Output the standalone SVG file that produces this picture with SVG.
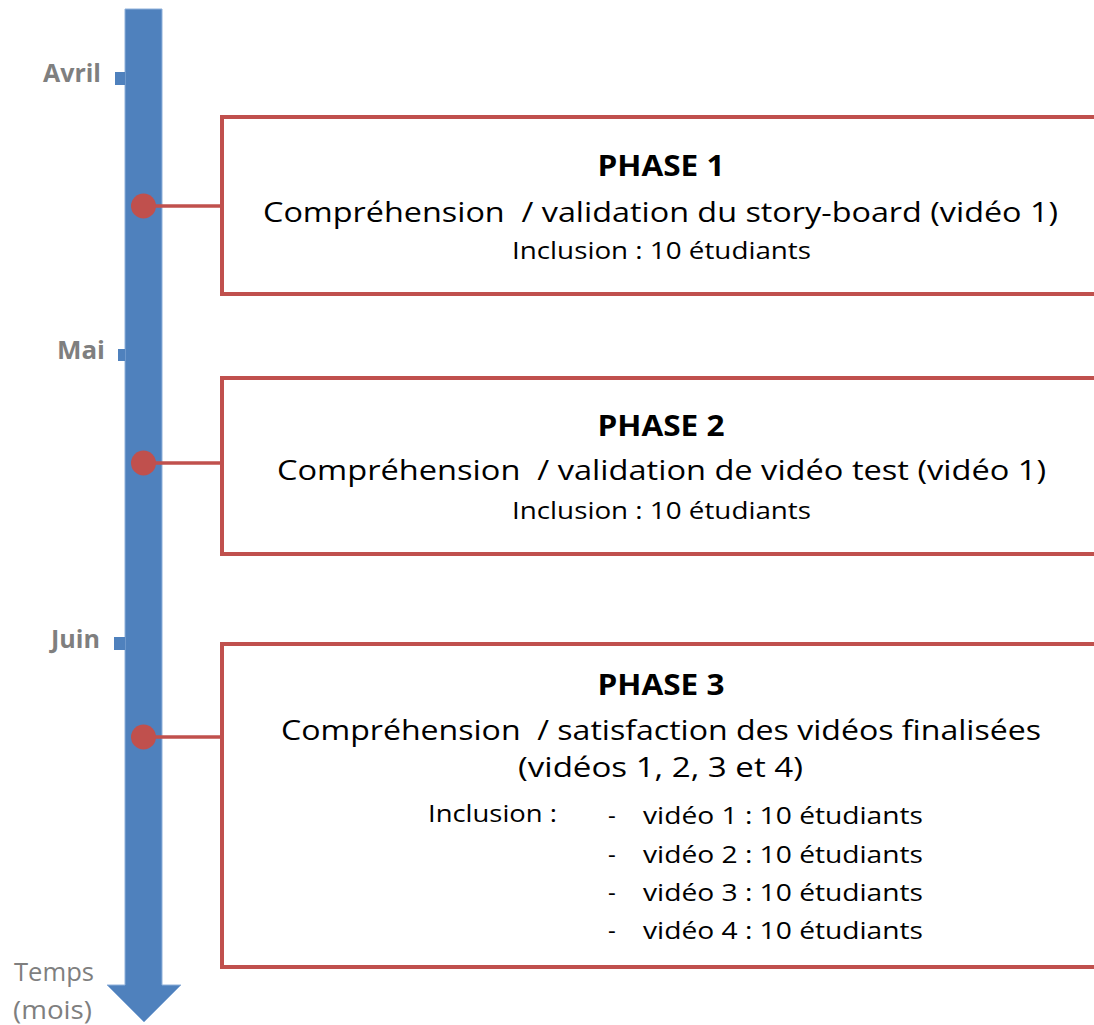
<svg xmlns="http://www.w3.org/2000/svg" width="1094" height="1025" viewBox="0 0 1094 1025">
  <style>
    .month { font-family: "Open Sans", "Liberation Sans", sans-serif; font-weight: bold; font-size: 25px; fill: #7f7f7f; text-anchor: end; }
    .axis { font-family: "Open Sans", "Liberation Sans", sans-serif; font-size: 25px; fill: #7f7f7f; }
    .box { fill: #ffffff; stroke: #c0504d; stroke-width: 4; }
    .dot { fill: #c0504d; }
    .conn { stroke: #c0504d; stroke-width: 3.5; fill: none; }
    .title { font-family: "Open Sans", "Liberation Sans", sans-serif; font-weight: bold; font-size: 29px; fill: #000; text-anchor: middle; }
    .main { font-family: "Open Sans", "Liberation Sans", sans-serif; font-size: 28px; fill: #000; text-anchor: middle; }
    .inc { font-family: "Open Sans", "Liberation Sans", sans-serif; font-size: 24px; fill: #000; }
  </style>
  <rect width="1094" height="1025" fill="#ffffff"/>

  <g id="timeline">
    <path d="M125,9 H162 V985 H181 L144,1022 L107,985 H125 Z" fill="#4f81bd" stroke="#8eb0da" stroke-width="1"/>
    <rect x="115" y="72" width="10" height="13" fill="#4f81bd"/>
    <rect x="118" y="349" width="7" height="12" fill="#4f81bd"/>
    <rect x="114" y="637" width="11" height="13" fill="#4f81bd"/>
    <text class="month" x="101" y="82" textLength="58" lengthAdjust="spacingAndGlyphs">Avril</text>
    <text class="month" x="105" y="359" textLength="48" lengthAdjust="spacingAndGlyphs">Mai</text>
    <text class="month" x="100" y="648" textLength="49" lengthAdjust="spacingAndGlyphs">Juin</text>
    <text class="axis" x="14" y="981" textLength="80" lengthAdjust="spacingAndGlyphs">Temps</text>
    <text class="axis" x="13" y="1019" textLength="79" lengthAdjust="spacingAndGlyphs">(mois)</text>
  </g>

  <g id="connectors">
    <line class="conn" x1="150" y1="206" x2="222" y2="206"/>
    <line class="conn" x1="150" y1="463" x2="222" y2="463"/>
    <line class="conn" x1="150" y1="737" x2="222" y2="737"/>
  </g>

  <g id="dots">
    <circle class="dot" cx="143.5" cy="206" r="12.5"/>
    <circle class="dot" cx="143.5" cy="463" r="12.5"/>
    <circle class="dot" cx="143.5" cy="737" r="12.5"/>
  </g>

  <g id="phase1">
    <path class="box" d="M1100,117 H222 V294 H1100"/>
    <text class="title" x="661" y="176" textLength="127" lengthAdjust="spacingAndGlyphs">PHASE 1</text>
    <text class="main" x="660.5" y="222" textLength="795" lengthAdjust="spacingAndGlyphs">Compréhension&#160; / validation du story-board (vidéo 1)</text>
    <text class="inc" x="512" y="259" textLength="299" lengthAdjust="spacingAndGlyphs">Inclusion : 10 étudiants</text>
  </g>

  <g id="phase2">
    <path class="box" d="M1100,378 H222 V554 H1100"/>
    <text class="title" x="661" y="436" textLength="127" lengthAdjust="spacingAndGlyphs">PHASE 2</text>
    <text class="main" x="661.5" y="480" textLength="769" lengthAdjust="spacingAndGlyphs">Compréhension&#160; / validation de vidéo test (vidéo 1)</text>
    <text class="inc" x="512" y="519" textLength="299" lengthAdjust="spacingAndGlyphs">Inclusion : 10 étudiants</text>
  </g>

  <g id="phase3">
    <path class="box" d="M1100,644 H222 V967 H1100"/>
    <text class="title" x="661" y="695" textLength="127" lengthAdjust="spacingAndGlyphs">PHASE 3</text>
    <text class="main" x="661" y="740" textLength="760" lengthAdjust="spacingAndGlyphs">Compréhension&#160; / satisfaction des vidéos finalisées</text>
    <text class="main" x="660.5" y="777" textLength="285" lengthAdjust="spacingAndGlyphs">(vidéos 1, 2, 3 et 4)</text>
    <text class="inc" x="428" y="822" textLength="129" lengthAdjust="spacingAndGlyphs">Inclusion :</text>
    <text class="inc" x="608" y="824">-</text>
    <text class="inc" x="643" y="824" textLength="280" lengthAdjust="spacingAndGlyphs">vidéo 1 : 10 étudiants</text>
    <text class="inc" x="608" y="863">-</text>
    <text class="inc" x="643" y="863" textLength="280" lengthAdjust="spacingAndGlyphs">vidéo 2 : 10 étudiants</text>
    <text class="inc" x="608" y="901">-</text>
    <text class="inc" x="643" y="901" textLength="280" lengthAdjust="spacingAndGlyphs">vidéo 3 : 10 étudiants</text>
    <text class="inc" x="608" y="939">-</text>
    <text class="inc" x="643" y="939" textLength="280" lengthAdjust="spacingAndGlyphs">vidéo 4 : 10 étudiants</text>
  </g>
</svg>
